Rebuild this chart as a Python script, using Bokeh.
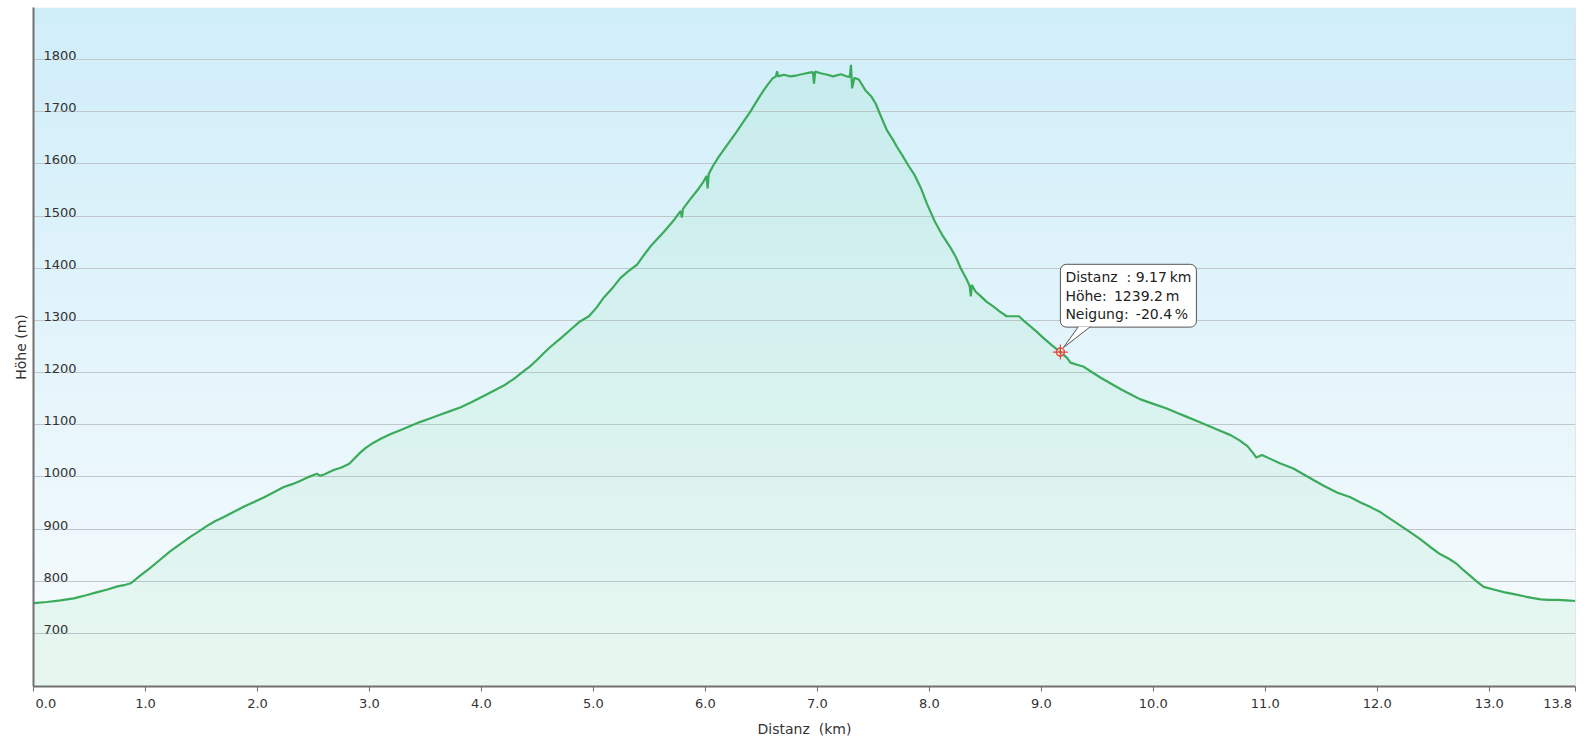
import numpy as np
from bokeh.plotting import figure
from bokeh.models import Span, FixedTicker
from bokeh.models import Label
from bokeh.core.properties import value
from bokeh.embed import file_html
from bokeh.resources import INLINE

# ---------------- data ----------------
distance_km = [
    0.00, 0.12, 0.24, 0.36, 0.47, 0.57, 0.66, 0.75, 0.82, 0.87,
    0.95, 1.04, 1.13, 1.22, 1.31, 1.40, 1.48, 1.55, 1.62, 1.70,
    1.79, 1.88, 1.97, 2.06, 2.15, 2.23, 2.31, 2.38, 2.46, 2.53,
    2.56, 2.60, 2.68, 2.75, 2.82, 2.87, 2.91, 2.97, 3.04, 3.11,
    3.19, 3.28, 3.37, 3.45, 3.54, 3.63, 3.72, 3.81, 3.91, 4.02,
    4.11, 4.20, 4.29, 4.38, 4.44, 4.50, 4.56, 4.62, 4.71, 4.80,
    4.88, 4.96, 5.03, 5.09, 5.17, 5.24, 5.31, 5.39, 5.45, 5.51,
    5.57, 5.63, 5.71, 5.78, 5.79, 5.80, 5.86, 5.93, 5.98, 6.01,
    6.02, 6.03, 6.07, 6.12, 6.20, 6.28, 6.34, 6.40, 6.46, 6.52,
    6.56, 6.60, 6.63, 6.64, 6.65, 6.70, 6.76, 6.82, 6.88, 6.93,
    6.96, 6.97, 6.98, 7.03, 7.09, 7.14, 7.21, 7.26, 7.29, 7.30,
    7.31, 7.33, 7.37, 7.43, 7.48, 7.52, 7.57, 7.62, 7.67, 7.71,
    7.76, 7.81, 7.87, 7.92, 7.98, 8.05, 8.12, 8.19, 8.24, 8.28,
    8.33, 8.36, 8.37, 8.38, 8.41, 8.46, 8.51, 8.57, 8.63, 8.69,
    8.75, 8.80, 8.85, 8.90, 8.96, 9.02, 9.09, 9.17, 9.23, 9.26,
    9.32, 9.38, 9.45, 9.53, 9.62, 9.71, 9.80, 9.88, 10.00, 10.12,
    10.21, 10.30, 10.39, 10.48, 10.58, 10.69, 10.77, 10.84, 10.89, 10.92,
    10.97, 11.05, 11.13, 11.25, 11.34, 11.43, 11.53, 11.64, 11.76, 11.85,
    11.94, 12.03, 12.12, 12.21, 12.30, 12.38, 12.47, 12.56, 12.64, 12.71,
    12.77, 12.83, 12.89, 12.95, 13.04, 13.13, 13.22, 13.31, 13.38, 13.46,
    13.53, 13.61, 13.69, 13.77,
]
elevation_m = [
    758, 760, 763, 767, 773, 779, 784, 790, 793, 796,
    810, 825, 841, 857, 871, 885, 896, 906, 915, 923,
    933, 943, 952, 961, 971, 980, 986, 992, 1000, 1006,
    1002, 1005, 1013, 1018, 1025, 1036, 1045, 1056, 1066, 1074,
    1082, 1090, 1098, 1105, 1112, 1119, 1126, 1133, 1143, 1155,
    1165, 1175, 1188, 1203, 1213, 1225, 1238, 1250, 1266, 1283,
    1298, 1308, 1325, 1343, 1362, 1381, 1394, 1407, 1425, 1442,
    1456, 1470, 1490, 1510, 1497, 1514, 1531, 1550, 1565, 1577,
    1553, 1581, 1597, 1614, 1638, 1662, 1681, 1700, 1721, 1741,
    1753, 1764, 1768, 1778, 1768, 1771, 1768, 1770, 1773, 1775,
    1776, 1754, 1777, 1774, 1771, 1768, 1772, 1768, 1767, 1790,
    1745, 1765, 1762, 1741, 1730, 1716, 1690, 1665, 1648, 1633,
    1616, 1598, 1578, 1556, 1523, 1489, 1462, 1439, 1420, 1400,
    1380, 1366, 1346, 1368, 1356, 1346, 1336, 1327, 1317, 1308,
    1308, 1308, 1298, 1289, 1278, 1266, 1253, 1239.2, 1228, 1219,
    1215, 1211, 1201, 1190, 1179, 1168, 1158, 1149, 1140, 1131,
    1123, 1115, 1107, 1099, 1090, 1080, 1070, 1059, 1046, 1037,
    1042, 1034, 1026, 1016, 1005, 994, 982, 970, 961, 951,
    942, 932, 919, 906, 893, 881, 866, 852, 843, 833,
    821, 810, 799, 789, 784, 779, 775, 771, 768, 765,
    764, 764, 763, 762,
]
assert len(distance_km) == len(elevation_m)

x_ticks = [0, 1, 2, 3, 4, 5, 6, 7, 8, 9, 10, 11, 12, 13, 13.77]
x_tick_labels = ["0.0", "1.0", "2.0", "3.0", "4.0", "5.0", "6.0", "7.0",
                 "8.0", "9.0", "10.0", "11.0", "12.0", "13.0", "13.8"]
y_ticks = [700, 800, 900, 1000, 1100, 1200, 1300, 1400, 1500, 1600, 1700, 1800]
y_tick_labels = [str(v) for v in y_ticks]

marker_distance = 9.17
marker_elevation = 1239.2
tooltip_lines = ["Distanz\u00a0\u00a0: 9.17\u2009km", "Höhe:\u2009 1239.2\u2009m", "Neigung:\u2009 -20.4\u2009%"]

# ---------------- layout ----------------
FONT = "DejaVu Sans"
NB = "\u00a0"
X_END = distance_km[-1]
Y_START, Y_END = 598, 1900
W, H = 1584, 739
BL, BR, BT, BB = 33, 9, 7, 51
px_per_km = (W - BL - BR) / X_END
px_per_m = (H - BT - BB) / (Y_END - Y_START)

p = figure(width=W, height=H, x_range=(0, X_END), y_range=(Y_START, Y_END),
           output_backend="svg", toolbar_location=None,
           min_border_left=BL, min_border_right=BR, min_border_top=BT,
           min_border_bottom=BB)
p.border_fill_color = "white"
p.outline_line_color = None

# background gradient (light sky blue at top -> almost white at bottom)
n = 200
t = np.linspace(0.0, 1.0, n)[:, None]
top_c = np.array([208, 238, 250])
bot_c = np.array([248, 252, 253])
cols = (bot_c + (top_c - bot_c) * t).astype(np.uint8)
img = np.empty((n, 1), dtype=np.uint32)
view = img.view(dtype=np.uint8).reshape((n, 1, 4))
view[:, 0, 0] = cols[:, 0]
view[:, 0, 1] = cols[:, 1]
view[:, 0, 2] = cols[:, 2]
view[:, 0, 3] = 255
p.image_rgba(image=[img], x=0, y=Y_START, dw=X_END, dh=Y_END - Y_START, level="image")

# grid
p.xgrid.grid_line_color = None
p.ygrid.ticker = FixedTicker(ticks=y_ticks)
p.ygrid.grid_line_color = "#bfc7cc"
p.ygrid.grid_line_width = 1

# area + line
p.varea(x=distance_km, y1=[Y_START] * len(distance_km), y2=elevation_m,
        fill_color="#5fd38e", fill_alpha=0.10)
p.line(distance_km, elevation_m, line_color="#3aab5b", line_width=2.2)

# axes
for ax in (p.xaxis, p.yaxis):
    ax.axis_line_color = "#707070"
    ax.axis_line_width = 2
    ax.minor_tick_line_color = None
    ax.axis_label_text_font = FONT
    ax.axis_label_text_font_size = "14px"
    ax.axis_label_text_font_style = "normal"
    ax.axis_label_text_color = "#333333"

label_map = {}
for i, (tx, tl) in enumerate(zip(x_ticks, x_tick_labels)):
    if i == 0:
        tl = NB * 6 + tl
    elif i == len(x_ticks) - 1:
        tl = tl + NB * 3
    label_map[tx] = tl

p.xaxis.ticker = FixedTicker(ticks=x_ticks)
p.xaxis.major_label_overrides = label_map
p.xaxis.major_label_text_font = FONT
p.xaxis.major_label_text_font_size = "13px"
p.xaxis.major_label_text_color = "#333333"
p.xaxis.major_tick_line_color = "#707070"
p.xaxis.major_tick_line_width = 1
p.xaxis.major_tick_out = 5
p.xaxis.major_tick_in = 0
p.xaxis.major_label_standoff = 4
p.xaxis.axis_label = "Distanz\u00a0\u00a0(km)"
p.xaxis.axis_label_standoff = 7

p.yaxis.ticker = FixedTicker(ticks=[])
p.yaxis.major_tick_line_color = None
p.yaxis.major_tick_out = 0
p.yaxis.major_tick_in = 0
p.yaxis.major_label_standoff = 0
p.yaxis.axis_label = "Höhe (m)"
p.yaxis.axis_label_standoff = 5

# right border line
p.add_layout(Span(location=X_END, dimension="height", line_color="#cfcfcf", line_width=1))

# y tick labels inside plot, above gridlines
p.text(x=[0] * len(y_ticks), y=y_ticks, text=y_tick_labels, x_offset=10, y_offset=-4,
       text_baseline="alphabetic", text_align="left", text_font=value(FONT),
       text_font_size="13px", text_color="#333333")

# hover marker
p.scatter(x=[marker_distance], y=[marker_elevation], marker="circle", size=8,
          fill_color="white", fill_alpha=0.5, line_color="#e5483c", line_width=1.5)
p.scatter(x=[marker_distance], y=[marker_elevation], marker="cross", size=15,
          line_color="#e5483c", line_width=1.2)
p.scatter(x=[marker_distance], y=[marker_elevation], marker="circle", size=3,
          fill_color="#e5483c", line_color=None)

# tooltip box
p.add_layout(Label(x=marker_distance, y=marker_elevation, x_offset=0, y_offset=25,
                   text="\n".join(tooltip_lines), text_align="left", text_baseline="bottom",
                   text_font=FONT, text_font_size="14px", text_color="#222222",
                   text_line_height=1.15,
                   background_fill_color="white", background_fill_alpha=1.0,
                   border_line_color="#555555", border_line_width=1,
                   border_radius=6, padding=5))

# tooltip pointer (offsets in pixels converted to data units)
def pt(dx_px, dy_px):
    return marker_distance + dx_px / px_per_km, marker_elevation + dy_px / px_per_m

b1 = pt(18, 25.5)
b2 = pt(30, 25.5)
tip = pt(3, 4.5)
p.patch(x=[b1[0], tip[0], b2[0]], y=[b1[1], tip[1], b2[1]], fill_color="white",
        line_color=None, level="overlay")
p.multi_line(xs=[[b1[0], tip[0]], [b2[0], tip[0]]], ys=[[b1[1], tip[1]], [b2[1], tip[1]]],
             line_color="#555555", line_width=1, level="overlay")

open("out.html", "w").write(file_html(p, INLINE))
